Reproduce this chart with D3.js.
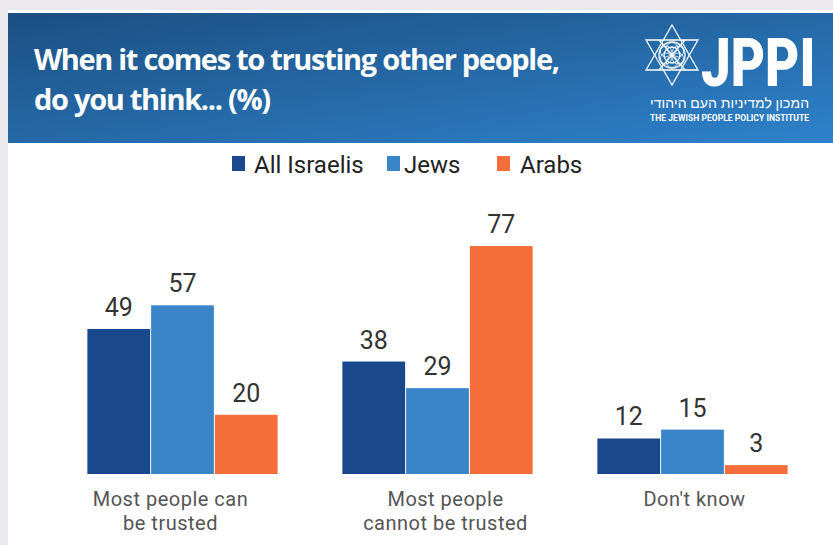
<!DOCTYPE html>
<html>
<head>
<meta charset="utf-8">
<script src="https://cdn.jsdelivr.net/npm/d3@7"></script>
<style>
  body { margin: 0; background: #ebe9ee; }
  svg { display: block; }
</style>
</head>
<body>
<svg id="chart"></svg>
<script>
// data
var categories = ["Most people can be trusted", "Most people cannot be trusted", "Don't know"];
var categoryLines = [["Most people can", "be trusted"], ["Most people", "cannot be trusted"], ["Don't know"]];
var seriesNames = ["All Israelis", "Jews", "Arabs"];
var allIsraelis = [49, 38, 12];
var jews = [57, 29, 15];
var arabs = [20, 77, 3];
var seriesColors = ["#1a488c", "#3985c7", "#f46d3b"];

var width = 833, height = 545;
var labelShift = [-12, 8, 2];

var svg = d3.select("#chart").attr("width", width).attr("height", height);

// card + banner
svg.append("rect").attr("x", 8).attr("y", 10).attr("width", width - 8).attr("height", height - 10).attr("fill", "#fff");

var defs = svg.append("defs");
var grad = defs.append("linearGradient").attr("id", "bannerGrad")
    .attr("x1", "0%").attr("y1", "0%").attr("x2", "100%").attr("y2", "100%");
grad.append("stop").attr("offset", "0%").attr("stop-color", "#1c4f82");
grad.append("stop").attr("offset", "100%").attr("stop-color", "#2e82cb");

svg.append("rect").attr("x", 8).attr("y", 13).attr("width", width - 8).attr("height", 130).attr("fill", "url(#bannerGrad)");

var title = svg.append("text")
    .attr("fill", "#fff")
    .style("font-family", "'Open Sans', sans-serif")
    .style("font-weight", "bold")
    .style("font-size", "29px")
    .style("letter-spacing", "-1.3px");
title.append("tspan").attr("x", 34).attr("y", 70).text("When it comes to trusting other people,");
title.append("tspan").attr("x", 34).attr("y", 110).text("do you think... (%)");

// logo
var logo = svg.append("g").attr("transform", "translate(672,55)")
    .attr("fill", "none").attr("stroke", "#fff").attr("stroke-width", 1.3);
var R = 30;
function tri(rot) {
    var pts = [0, 1, 2].map(function (k) {
        var a = rot + k * 2 * Math.PI / 3;
        return [R * Math.sin(a), -R * Math.cos(a)];
    });
    return "M" + pts.join("L") + "Z";
}
logo.append("path").attr("d", tri(0));
logo.append("path").attr("d", tri(Math.PI));
logo.append("path").attr("d", "M" + [[-R * 0.866 / 2, -R / 2], [R * 0.866 / 2, R / 2]].join("L") + "M" + [[R * 0.866 / 2, -R / 2], [-R * 0.866 / 2, R / 2]].join("L"));
logo.append("circle").attr("r", 8);
logo.append("circle").attr("r", 13);
[0, 60, 120, 180, 240, 300].forEach(function (a) {
    var rad = a * Math.PI / 180;
    logo.append("circle").attr("cx", 7 * Math.sin(rad)).attr("cy", -7 * Math.cos(rad)).attr("r", 5.5).attr("stroke-width", 0.8);
});

svg.append("text").attr("transform", "translate(701,86) scale(0.8,1)")
    .attr("fill", "#fff").style("font-family", "'Roboto', sans-serif").style("font-weight", "900")
    .style("font-size", "66px").text("JPPI");
svg.append("text").attr("x", 809).attr("y", 108).attr("text-anchor", "end")
    .attr("fill", "#fff").style("font-family", "'Noto Sans', sans-serif").style("font-size", "14px")
    .attr("textLength", 159).text("המכון למדיניות העם היהודי");
svg.append("text").attr("x", 809).attr("y", 121).attr("text-anchor", "end")
    .attr("fill", "#fff").style("font-family", "'Roboto', sans-serif").style("font-weight", "bold")
    .style("font-size", "8.5px").attr("textLength", 159).text("THE JEWISH PEOPLE POLICY INSTITUTE");

// legend
var legendX = [232, 387, 497];
var legendTextX = [254, 404, 520];
var legend = svg.append("g");
seriesNames.forEach(function (name, i) {
    legend.append("rect").attr("x", legendX[i]).attr("y", 156).attr("width", 13).attr("height", 15).attr("fill", seriesColors[i]);
    legend.append("text").attr("x", legendTextX[i]).attr("y", 173)
        .attr("fill", "#222").style("font-family", "'Roboto', sans-serif").style("font-size", "24px").text(name);
});

// scales
var seriesValues = [allIsraelis, jews, arabs];
var x0 = d3.scaleBand().domain(categories).range([55, 820]).paddingInner(0.25).paddingOuter(0.125);
var x1 = d3.scaleBand().domain(seriesNames).range([0, x0.bandwidth()]).padding(0);
var y = d3.scaleLinear().domain([0, 100]).range([474, 178]);

var groups = svg.selectAll(".group").data(categories).enter().append("g")
    .attr("class", "group")
    .attr("transform", function (d) { return "translate(" + x0(d) + ",0)"; });

function rows(d, ci) {
    return seriesNames.map(function (s, si) { return { s: s, si: si, v: seriesValues[si][ci] }; });
}

groups.selectAll("rect").data(rows).enter().append("rect")
    .attr("x", function (d) { return x1(d.s) + 0.5; })
    .attr("width", x1.bandwidth() - 1)
    .attr("y", function (d) { return y(d.v); })
    .attr("height", function (d) { return y(0) - y(d.v); })
    .attr("fill", function (d) { return seriesColors[d.si]; });

groups.selectAll(".val").data(rows).enter().append("text")
    .attr("class", "val")
    .attr("x", function (d) { return x1(d.s) + x1.bandwidth() / 2; })
    .attr("y", function (d) { return y(d.v) - 13; })
    .attr("text-anchor", "middle")
    .attr("fill", "#333")
    .style("font-family", "'Roboto', sans-serif")
    .style("font-size", "25px")
    .text(function (d) { return d.v; });

// category labels
groups.append("text")
    .attr("text-anchor", "middle")
    .attr("fill", "#555")
    .style("font-family", "'Roboto', sans-serif")
    .style("font-size", "20px")
    .style("letter-spacing", "0.5px")
    .each(function (d, i) {
        var t = d3.select(this);
        categoryLines[i].forEach(function (line, li) {
            t.append("tspan").attr("x", x0.bandwidth() / 2 + labelShift[i]).attr("y", 506 + li * 24).text(line);
        });
    });
</script>
</body>
</html>
